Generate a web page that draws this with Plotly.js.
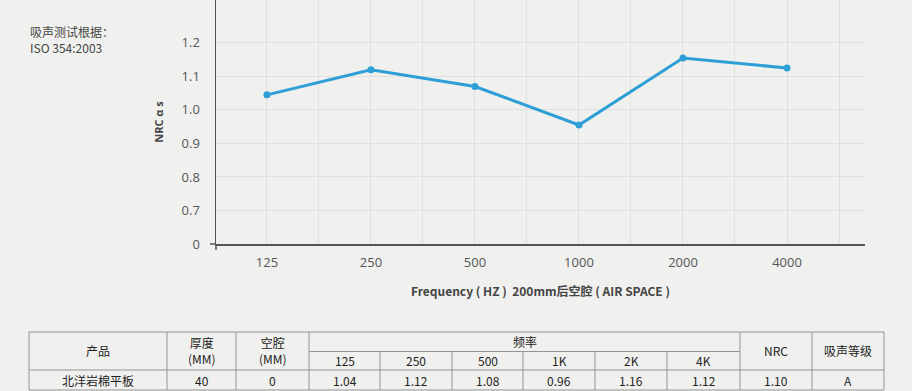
<!DOCTYPE html>
<html><head><meta charset="utf-8">
<script src="https://cdn.plot.ly/plotly-3.0.1.min.js"></script>
<style>html,body{margin:0;padding:0;background:#f0f1ef;}#chart{width:912px;height:391px;}</style>
</head><body><div id="chart"></div>
<script>
// ---- data ----
const frequencies = ['125','250','500','1000','2000','4000'];
const nrcValues = [1.045, 1.12, 1.07, 0.955, 1.155, 1.125];
const yTickVals = [0.6, 0.7, 0.8, 0.9, 1.0, 1.1, 1.2];
const yTickText = ['0', '0.7', '0.8', '0.9', '1.0', '1.1', '1.2'];
const noteLines = ['吸声测试根据：', 'ISO 354:2003'];
const tableHeadTop = ['产品', '厚度<br>(MM)', '空腔<br>(MM)', '频率', 'NRC', '吸声等级'];
const tableFreqHead = ['125', '250', '500', '1K', '2K', '4K'];
const tableRow = ['北洋岩棉平板', '40', '0', '1.04', '1.12', '1.08', '0.96', '1.16', '1.12', '1.10', 'A'];

// ---- layout helpers (pixel -> paper) ----
const L = 216, R = 865, T = 0, B = 244;
const PW = R - L, PH = B - T;
const px = x => (x - L) / PW;
const py = y => (B - y) / PH;

const xIdx = frequencies.map((_, i) => i);
const gridVals = [];
const gridText = [];
for (let i = 0; i < frequencies.length; i++) {
  gridVals.push(i); gridText.push(frequencies[i]);
  gridVals.push(i + 0.5); gridText.push('');
}

const fontMain = 'Open Sans, "Noto Sans CJK SC", sans-serif';
const fontCJK = '"Noto Sans CJK SC", "Open Sans", sans-serif';

const shapes = [];
const annotations = [];
const lineCol = '#939393';
function hline(x0, x1, y) { shapes.push({type:'line', xref:'paper', yref:'paper', x0:px(x0), x1:px(x1), y0:py(y), y1:py(y), line:{color:lineCol, width:1}}); }
function vline(x, y0, y1) { shapes.push({type:'line', xref:'paper', yref:'paper', x0:px(x), x1:px(x), y0:py(y0), y1:py(y1), line:{color:lineCol, width:1}}); }
function text(t, x, y, size, bold) {
  annotations.push({xref:'paper', yref:'paper', x:px(x), y:py(y), text: bold ? '<b>'+t+'</b>' : t, showarrow:false,
    xanchor:'center', yanchor:'middle', font:{family:fontCJK, size:size||12, color:'#222'}});
}

// table geometry
const colEdges = [29, 167, 236, 309, 380, 452, 523, 595, 667, 740, 812, 884];
const yTop = 332, yMid = 351.5, yHead = 370, yBot = 390;
hline(colEdges[0], colEdges[colEdges.length-1], yTop);
hline(colEdges[3], colEdges[9], yMid);
hline(colEdges[0], colEdges[colEdges.length-1], yHead);
hline(colEdges[0], colEdges[colEdges.length-1], yBot);
colEdges.forEach((x, i) => {
  if (i >= 4 && i <= 8) vline(x, yMid, yBot);
  else vline(x, yTop, yBot);
});
// header texts
const mid = (a, b) => (a + b) / 2;
text(tableHeadTop[0], mid(colEdges[0], colEdges[1]), mid(yTop, yHead));
text(tableHeadTop[1], mid(colEdges[1], colEdges[2]), mid(yTop, yHead));
text(tableHeadTop[2], mid(colEdges[2], colEdges[3]), mid(yTop, yHead));
text(tableHeadTop[3], mid(colEdges[3], colEdges[9]), mid(yTop, yMid));
text(tableHeadTop[4], mid(colEdges[9], colEdges[10]), mid(yTop, yHead));
text(tableHeadTop[5], mid(colEdges[10], colEdges[11]), mid(yTop, yHead));
tableFreqHead.forEach((t, i) => text(t, mid(colEdges[3+i], colEdges[4+i]), mid(yMid, yHead)));
tableRow.forEach((t, i) => text(t, mid(colEdges[i], colEdges[i+1]), mid(yHead, yBot)));

// note text
annotations.push({xref:'paper', yref:'paper', x:px(28), y:py(21), xanchor:'left', yanchor:'top', align:'left',
  text: noteLines.join('<br>'), showarrow:false, font:{family:fontCJK, size:12, color:'#444'}});

// axis crossing stubs
shapes.push({type:'line', xref:'paper', yref:'paper', x0:0, x1:0, y0:py(244), y1:py(250), line:{color:'#555', width:1.5}});
shapes.push({type:'line', xref:'paper', yref:'paper', x0:px(210), x1:0, y0:0, y1:0, line:{color:'#555', width:1.5}});

const trace = {
  x: xIdx, y: nrcValues, type:'scatter', mode:'lines+markers',
  line:{color:'#2d9fd6', width:3}, marker:{color:'#2d9fd6', size:7},
  hoverinfo:'none', cliponaxis:false
};

const layout = {
  width:912, height:391,
  paper_bgcolor:'#f0f1ef', plot_bgcolor:'#f0f1ef',
  margin:{l:L, r:912-R, t:T, b:391-B},
  showlegend:false,
  font:{family:fontMain, color:'#555'},
  xaxis:{
    range:[-0.49, 5.75], tickvals:gridVals, ticktext:gridText,
    showgrid:true, gridcolor:'#e0e1df', gridwidth:1,
    showline:true, linecolor:'#555', linewidth:1.5,
    ticks:'outside', ticklen:6, tickcolor:'rgba(0,0,0,0)',
    tickfont:{family:fontMain, size:13, color:'#555'}, zeroline:false,
    title:{text:'<b>Frequency ( HZ )  200mm后空腔 ( AIR SPACE )</b>', standoff:17,
      font:{family:fontCJK, size:12, color:'#444'}}
  },
  yaxis:{
    range:[0.6, 1.328], tickvals:yTickVals, ticktext:yTickText,
    showgrid:true, gridcolor:'#e0e1df', gridwidth:1,
    showline:true, linecolor:'#555', linewidth:1.5,
    ticks:'outside', ticklen:12, tickcolor:'rgba(0,0,0,0)',
    tickfont:{family:fontMain, size:13, color:'#555'}, zeroline:false,
    title:{text:'<b>NRC α s</b>', standoff:16, font:{family:fontMain, size:11, color:'#444'}}
  },
  shapes: shapes,
  annotations: annotations
};

Plotly.newPlot('chart', [trace], layout, {displayModeBar:false, staticPlot:true});
</script>
</body></html>
